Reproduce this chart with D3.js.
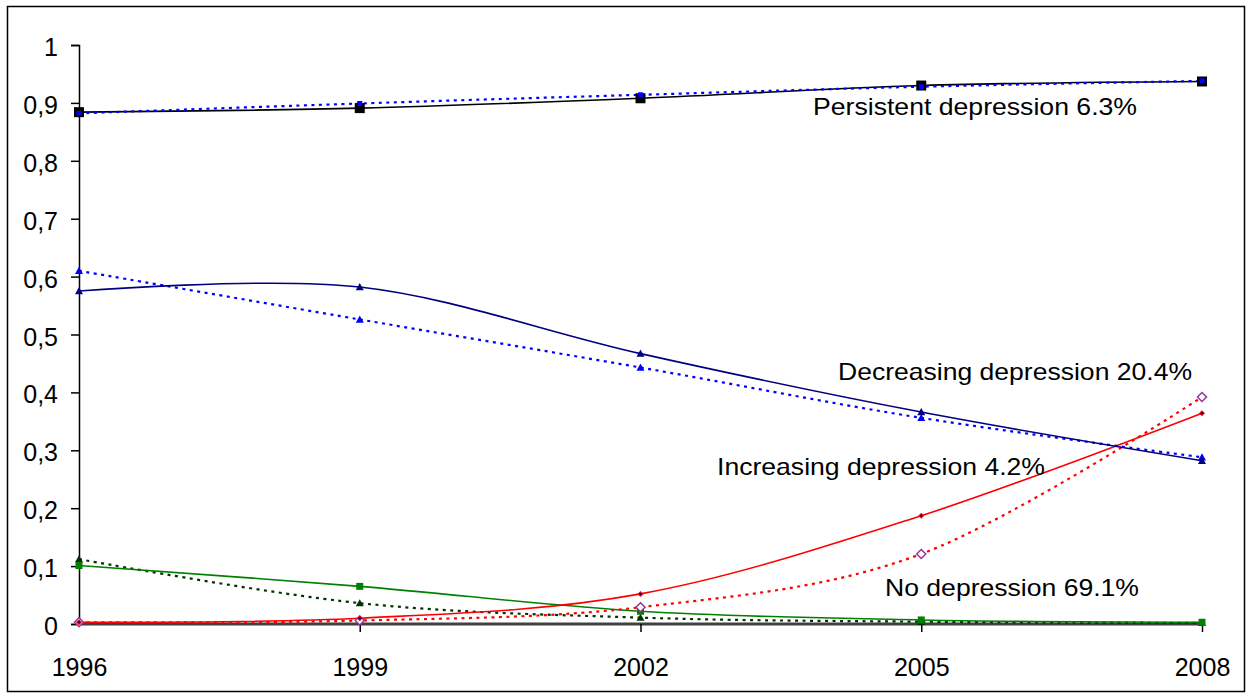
<!DOCTYPE html>
<html>
<head>
<meta charset="utf-8">
<script src="https://cdn.jsdelivr.net/npm/d3@7"></script>
<style>
  html, body { margin: 0; padding: 0; background: #fff; }
  svg { display: block; font-family: Arial, "Liberation Sans", sans-serif; }
</style>
</head>
<body>
<svg id="chart" width="1246" height="699"></svg>
<script>
const years = [1996, 1999, 2002, 2005, 2008];
const yTicks = [0, 0.1, 0.2, 0.3, 0.4, 0.5, 0.6, 0.7, 0.8, 0.9, 1];

const persistentObs  = [0.884, 0.891, 0.908, 0.930, 0.937];
const persistentPred = [0.882, 0.899, 0.914, 0.928, 0.938];
const decreasingObs  = [0.575, 0.582, 0.467, 0.366, 0.282];
const decreasingPred = [0.610, 0.526, 0.443, 0.356, 0.288];
const increasingObs  = [0.003, 0.010, 0.052, 0.187, 0.364];
const increasingPred = [0.003, 0.006, 0.029, 0.121, 0.392];
const noDepObs       = [0.101, 0.065, 0.022, 0.007, 0.003];
const noDepPred      = [0.112, 0.036, 0.011, 0.004, 0.002];

const labels = [
  { text: "Persistent depression 6.3%", x: 813, y: 115, w: 324 },
  { text: "Decreasing depression 20.4%", x: 838, y: 380, w: 354 },
  { text: "Increasing depression 4.2%", x: 717, y: 475, w: 328 },
  { text: "No depression 69.1%", x: 885, y: 596, w: 254 }
];

const series = [
  { values: noDepPred, color: "#003300", dotted: true, marker: "triangle", mcolor: "#003300", msize: 8 },
  { values: noDepObs, color: "#008000", dotted: false, marker: "square", mcolor: "#008000", msize: 7 },
  { values: increasingPred, color: "#FF0000", dotted: true, marker: "diamondOpen", mcolor: "#993399", msize: 9 },
  { values: increasingObs, color: "#FF0000", dotted: false, marker: "diamondDot", mcolor: "#FF0000", msize: 6 },
  { values: decreasingPred, color: "#0000FF", dotted: true, marker: "triangle", mcolor: "#0000FF", msize: 8 },
  { values: decreasingObs, color: "#000080", dotted: false, marker: "triangle", mcolor: "#000080", msize: 8 },
  { values: persistentObs, color: "#000000", dotted: false, marker: "square", mcolor: "#000000", msize: 10 },
  { values: persistentPred, color: "#0000FF", dotted: true, marker: "square", mcolor: "#0000FF", msize: 5 }
];

const svg = d3.select("#chart");
svg.append("rect").attr("x", 7.5).attr("y", 6.5).attr("width", 1237).attr("height", 685)
  .attr("fill", "none").attr("stroke", "#000").attr("stroke-width", 1.5);

const x = d3.scaleLinear().domain([1996, 2008]).range([79, 1202]);
const y = d3.scaleLinear().domain([0, 1]).range([624, 45]);

const yAxis = d3.axisLeft(y).tickValues(yTicks).tickSize(8).tickPadding(13)
  .tickFormat(d => d3.format(".1~f")(d).replace(".", ","));
const gy = svg.append("g").attr("transform", `translate(${x(1996)},0)`).call(yAxis);
gy.selectAll("path").attr("stroke", "#000").attr("stroke-width", 1.5);
gy.selectAll("line").attr("stroke", "#000").attr("stroke-width", 1.5);
gy.selectAll("text").attr("font-size", 25).attr("fill", "#000").attr("dy", "0.42em")
  .attr("font-family", "Arial, 'Liberation Sans', sans-serif");

const xAxis = d3.axisBottom(x).tickValues(years).tickSize(8).tickPadding(26).tickFormat(d3.format("d"));
const gx = svg.append("g").attr("transform", `translate(0,${y(0)})`).call(xAxis);
gx.selectAll("path").attr("stroke", "#404040").attr("stroke-width", 3).attr("d", `M${x(1996)},0H${x(2008)}`);
gx.selectAll("line").attr("stroke", "#000").attr("stroke-width", 1.5);
gx.selectAll(".tick").filter(d => d === 1996).select("line").remove();
gx.selectAll("text").attr("font-size", 25).attr("fill", "#000")
  .attr("font-family", "Arial, 'Liberation Sans', sans-serif");

const line = d3.line().x((d, i) => x(years[i])).y(d => y(d)).curve(d3.curveCardinal.tension(0));

series.forEach(s => {
  svg.append("path").datum(s.values).attr("d", line)
    .attr("fill", "none").attr("stroke", s.color)
    .attr("stroke-width", s.dotted ? 2.2 : 1.6)
    .attr("stroke-dasharray", s.dotted ? "3,4.5" : null);
});

series.forEach(s => {
  const g = svg.append("g");
  s.values.forEach((v, i) => {
    const cx = x(years[i]), cy = y(v), r = s.msize / 2;
    if (s.marker === "square") {
      g.append("rect").attr("x", cx - r).attr("y", cy - r).attr("width", s.msize).attr("height", s.msize)
        .attr("fill", s.mcolor);
    } else if (s.marker === "triangle") {
      g.append("path").attr("d", `M${cx},${cy - r}L${cx + r},${cy + r * 0.8}L${cx - r},${cy + r * 0.8}Z`)
        .attr("fill", s.mcolor);
    } else if (s.marker === "diamondOpen") {
      g.append("path").attr("d", `M${cx},${cy - r}L${cx + r},${cy}L${cx},${cy + r}L${cx - r},${cy}Z`)
        .attr("fill", "#fff").attr("stroke", s.mcolor).attr("stroke-width", 1.5);
    } else if (s.marker === "diamondDot") {
      g.append("path").attr("d", `M${cx},${cy - r}L${cx + r},${cy}L${cx},${cy + r}L${cx - r},${cy}Z`)
        .attr("fill", s.mcolor);
      g.append("circle").attr("cx", cx).attr("cy", cy).attr("r", 1.2).attr("fill", "#000080");
    }
  });
});

svg.selectAll(".lbl").data(labels).enter().append("text")
  .attr("x", d => d.x).attr("y", d => d.y).text(d => d.text)
  .attr("font-size", 24).attr("fill", "#000")
  .attr("textLength", d => d.w).attr("lengthAdjust", "spacingAndGlyphs");
</script>
</body>
</html>
